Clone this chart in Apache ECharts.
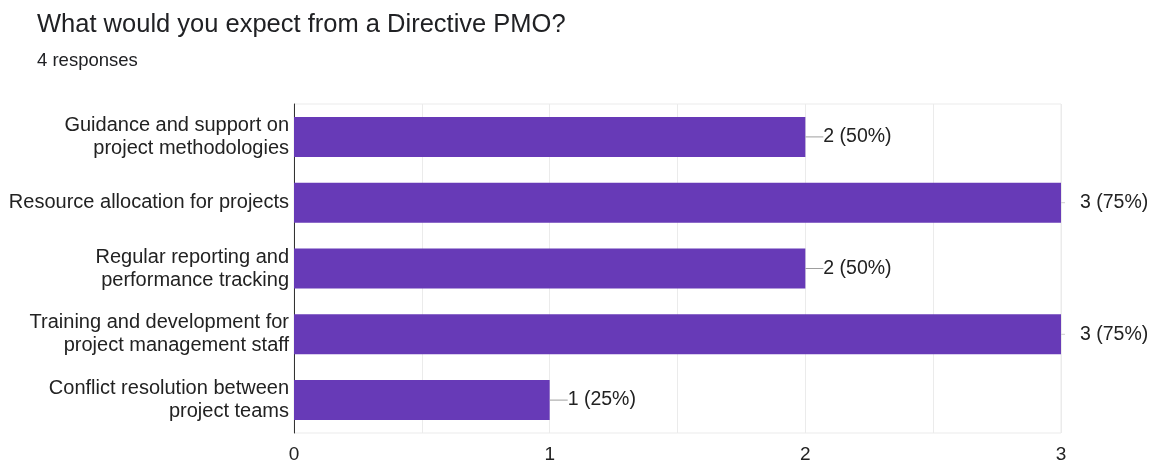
<!DOCTYPE html>
<html><head><meta charset="utf-8">
<script src="https://cdn.jsdelivr.net/npm/echarts@6/dist/echarts.min.js"></script>
<style>html,body{margin:0;padding:0;background:#fff}#c{width:1155px;height:460px}</style>
</head><body><div id="c"></div>
<script>
var categories = [
  "Guidance and support on\nproject methodologies",
  "Resource allocation for projects",
  "Regular reporting and\nperformance tracking",
  "Training and development for\nproject management staff",
  "Conflict resolution between\nproject teams"
];
var counts = [2, 3, 2, 3, 1];
var percents = ["50%", "75%", "50%", "75%", "25%"];
var xTicks = [0, 1, 2, 3];
var maxCount = 3;

var chart = echarts.init(document.getElementById('c'), null, {renderer: 'canvas'});
var font = '"Liberation Sans", Arial, sans-serif';
chart.setOption({
  animation: false,
  title: [
    {text: 'What would you expect from a Directive PMO?', left: 32, top: 7,
     textStyle: {fontFamily: font, fontSize: 25.5, fontWeight: 'normal', color: '#202124'}},
    {text: '4 responses', left: 32, top: 46,
     textStyle: {fontFamily: font, fontSize: 18.5, fontWeight: 'normal', color: '#202124'}}
  ],
  grid: {left: 294, right: 94, top: 104, bottom: 27, show: true, borderColor: '#ebebeb', borderWidth: 1,
         containLabel: false, outerBoundsMode: 'none'},
  xAxis: {
    type: 'value', min: 0, max: maxCount, interval: 0.5,
    axisLine: {show: false}, axisTick: {show: false},
    splitLine: {lineStyle: {color: '#ebebeb', width: 1}},
    axisLabel: {fontFamily: font, fontSize: 19, color: '#222', margin: 12,
      formatter: function (v) { return xTicks.indexOf(v) >= 0 ? String(v) : ''; }}
  },
  yAxis: {
    type: 'category', data: categories, inverse: true,
    axisLine: {show: true, lineStyle: {color: '#333', width: 1}},
    axisTick: {show: false},
    splitLine: {show: false},
    axisLabel: {fontFamily: font, fontSize: 20, color: '#222', margin: 5, lineHeight: 23, align: 'right'}
  },
  series: [{
    type: 'bar',
    data: counts,
    barWidth: 40,
    itemStyle: {color: '#673ab7'},
    label: {
      show: true, position: 'right', distance: 0,
      fontFamily: font, fontSize: 19.5, color: '#222',
      formatter: function (p) {
        var t = p.value + ' (' + percents[p.dataIndex] + ')';
        if (p.value >= maxCount) return '{tk|}{sp|}' + t;
        return '{ln|}' + t;
      },
      rich: {
        ln: {width: 18, height: 1, backgroundColor: '#9e9e9e'},
        tk: {width: 4, height: 1, backgroundColor: '#cfcfcf'},
        sp: {width: 15, height: 1}
      }
    }
  }]
});
</script>
</body></html>
